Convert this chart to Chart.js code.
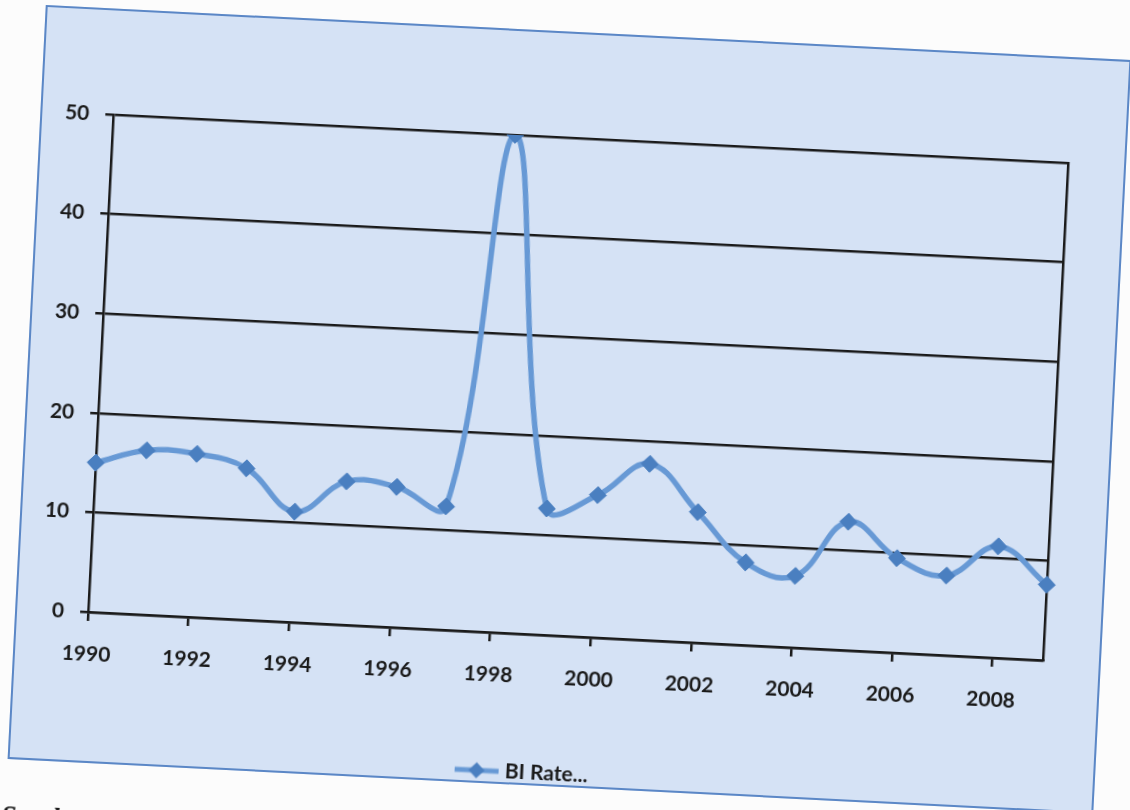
<!DOCTYPE html>
<html>
<head>
<meta charset="utf-8">
<script src="https://cdn.jsdelivr.net/npm/chart.js@4.4.1/dist/chart.umd.min.js"></script>
<style>
  html, body { margin: 0; padding: 0; background: #fcfcfc; width: 1130px; height: 810px; overflow: hidden; }
  #frame {
    position: absolute; left: 25.5px; top: 32px;
    width: 1087px; height: 755px; box-sizing: border-box;
    border: 2px solid #5b87c6; background: #d5e2f5;
    transform: rotate(2.9deg); transform-origin: 50% 50%;
  }
  #chart { display: block; position: absolute; left: 0; top: 0; }
  #source {
    position: absolute; left: 2px; top: 800px;
    font: italic bold 27px "Liberation Serif", serif; color: #1a1a1a;
    transform: rotate(2.9deg); transform-origin: 0 0; white-space: nowrap;
  }
</style>
</head>
<body>
<div id="frame"><canvas id="chart" width="1083" height="761" style="width:1083px;height:761px"></canvas></div>
<div id="source">Sumber: Bank Indonesia</div>
<script>
// Annual BI rate (%), 1990–2009
const years = ['1990','1991','1992','1993','1994','1995','1996','1997','1998','1999',
               '2000','2001','2002','2003','2004','2005','2006','2007','2008','2009'];
const biRate = [15.0, 16.5, 16.4, 15.2, 11.1, 14.4, 14.1, 12.4, 50.0, 12.7,
                14.3, 17.7, 13.1, 8.3, 7.2, 12.9, 9.5, 8.0, 11.2, 7.6];
const yTicks = [0, 10, 20, 30, 40, 50];
const seriesName = 'BI Rate...';

const ink = '#1a1a1a';
const lineBlue = '#6799d5';
const markBlue = '#4a7fc0';
const font = { family: 'Lato, "Open Sans", sans-serif', size: 21, weight: 'bold' };

// legend symbol: short line with a diamond on it
const icon = document.createElement('canvas');
icon.width = 44; icon.height = 18;
(function () {
  const c = icon.getContext('2d');
  c.strokeStyle = lineBlue; c.lineWidth = 5;
  c.beginPath(); c.moveTo(0, 9); c.lineTo(44, 9); c.stroke();
  c.fillStyle = markBlue;
  c.beginPath(); c.moveTo(22, 1); c.lineTo(30, 9); c.lineTo(22, 17); c.lineTo(14, 9); c.closePath(); c.fill();
})();

new Chart(document.getElementById('chart'), {
  type: 'line',
  data: {
    labels: years,
    datasets: [{
      label: seriesName,
      data: biRate,
      borderColor: lineBlue,
      borderWidth: 5.5,
      tension: 0.4,
      pointStyle: 'rectRot',
      pointRadius: 8.5,
      pointBackgroundColor: markBlue,
      pointBorderColor: markBlue,
      pointBorderWidth: 1,
      fill: false
    }]
  },
  options: {
    responsive: false,
    animation: false,
    layout: { padding: { top: 104, right: 56, bottom: 0, left: 0 } },
    plugins: {
      tooltip: { enabled: false },
      legend: {
        position: 'bottom',
        labels: {
          usePointStyle: true,
          pointStyle: icon,
          pointStyleWidth: 36,
          padding: 2,
          color: ink,
          font: font
        }
      }
    },
    scales: {
      x: {
        type: 'category',
        offset: false,
        afterFit: (s) => { s.height = 126; },
        grid: {
          drawOnChartArea: false,
          drawTicks: true,
          tickLength: 9,
          lineWidth: 2.5,
          tickColor: (ctx) => (ctx.index % 2 === 0 ? ink : 'rgba(0,0,0,0)')
        },
        border: { display: true, color: ink, width: 2.5 },
        ticks: {
          autoSkip: false,
          maxRotation: 0,
          minRotation: 0,
          padding: 21,
          color: ink,
          font: font,
          callback: (v, i) => (i % 2 === 0 ? years[i] : '')
        }
      },
      y: {
        min: yTicks[0],
        max: yTicks[yTicks.length - 1],
        afterFit: (s) => { s.width = 71; },
        afterBuildTicks: (s) => { s.ticks = yTicks.map(v => ({ value: v })); },
        grid: { color: ink, lineWidth: 2.5, tickLength: 8 },
        border: { display: true, color: ink, width: 2.5 },
        ticks: { padding: 16, color: ink, font: font }
      },
      y2: {
        position: 'right',
        min: yTicks[0],
        max: yTicks[yTicks.length - 1],
        afterFit: (s) => { s.width = 0; },
        grid: { drawOnChartArea: false, drawTicks: false },
        border: { display: true, color: ink, width: 2.5 },
        ticks: { display: false }
      }
    }
  }
});
</script>
</body>
</html>
